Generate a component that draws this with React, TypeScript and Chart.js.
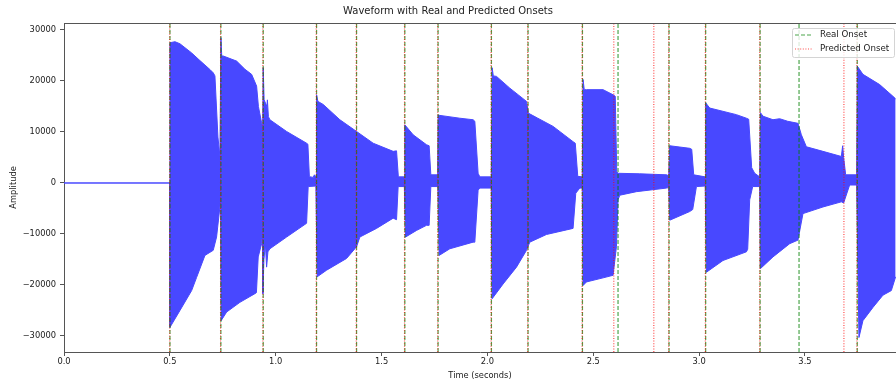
import React, { useEffect, useRef } from 'react';
import { Chart, registerables } from 'chart.js';

Chart.register(...registerables);

const TITLE = 'Waveform with Real and Predicted Onsets';
const X_LABEL = 'Time (seconds)';
const Y_LABEL = 'Amplitude';
const LEGEND_REAL = 'Real Onset';
const LEGEND_PRED = 'Predicted Onset';

const X_TICKS = [0, 0.5, 1, 1.5, 2, 2.5, 3, 3.5];
const Y_TICKS = [-30000, -20000, -10000, 0, 10000, 20000, 30000];
const X_MIN = 0;
const X_MAX = 3.93;
const Y_MIN = -33140;
const Y_MAX = 31370;

const REAL_ONSETS = [0.5005, 0.741, 0.941, 1.193, 1.382, 1.61, 1.767, 2.019, 2.192, 2.449, 2.617, 2.858, 3.031, 3.288, 3.472, 3.747];
const PRED_ONSETS = [0.4995, 0.7395, 0.9395, 1.1915, 1.3805, 1.6085, 1.7655, 2.0175, 2.1905, 2.4475, 2.597, 2.786, 2.8565, 3.0295, 3.2865, 3.684, 3.7455];

// Upper envelope of the waveform (time s, amplitude)
const UPPER_T = [
  0, 0.4995, 0.5005, 0.5241, 0.5477, 0.6029, 0.6421, 0.6893, 0.7049, 0.7129, 0.7271, 0.7365,
  0.7413, 0.745, 0.7521, 0.8154, 0.8546, 0.8862, 0.9098, 0.9183, 0.9334, 0.9386,
  0.941, 0.9452, 0.9584, 0.9608, 0.9655, 0.9726, 1.0515, 1.1459, 1.152, 1.1591, 1.177, 1.1827, 1.1912,
  1.1931, 1.1992, 1.2243, 1.3031, 1.382, 1.4603, 1.5548, 1.5708, 1.5793, 1.6076,
  1.61, 1.6492, 1.7125, 1.7247, 1.7328, 1.7649,
  1.7672, 1.8697, 1.9325, 1.9405, 1.9561, 1.9641, 2.0184,
  2.0222, 2.0279, 2.043, 2.1058, 2.1846, 2.1931, 2.238, 2.3102, 2.4046, 2.415, 2.4268, 2.4481,
  2.4518, 2.4575, 2.4679, 2.5463, 2.5935, 2.6039, 2.611, 2.6171, 2.7195, 2.847, 2.8565,
  2.8612, 2.9556, 2.9651, 2.9745, 3.0288,
  3.0312, 3.05, 3.1761, 3.2233, 3.2342, 3.2483, 3.2625, 3.2861,
  3.2894, 3.3017, 3.3489, 3.3805, 3.4183, 3.467, 3.483, 3.5066, 3.585, 3.6718, 3.678, 3.6827, 3.6922, 3.7441,
  3.7474, 3.7738, 3.8527, 3.9155, 3.9282,
];
const UPPER_V = [
  0, 0, 27500, 27700, 27300, 25500, 24000, 22250, 21600, 21000, 9000, 5200,
  28500, 24900, 24900, 23900, 22300, 21300, 19000, 15000, 11800, 11000,
  22600, 16300, 15000, 16300, 13000, 12400, 10100, 7800, 7600, 1240, 1100, 1600, 1200,
  17300, 16000, 15400, 12400, 10100, 7800, 6200, 6300, 1200, 1200,
  11400, 9450, 7500, 7300, 1600, 1600,
  13300, 12700, 12400, 12100, 1900, 1200, 1200,
  22600, 21000, 20900, 18600, 16000, 13700, 12700, 11100, 8100, 7800, 1300, 1200,
  20300, 18300, 18300, 18300, 17300, 17000, 2200, 1900, 1800, 1600, 1400,
  7300, 6800, 6600, 1600, 1200,
  15700, 14700, 13400, 12700, 12500, 3000, 1900, 1200,
  13800, 13100, 12400, 12600, 12100, 11700, 9450, 7100, 6200, 5200, 7300, 5000, 1600, 1600,
  22900, 21300, 19300, 17000, 16500,
];

// Lower envelope of the waveform (time s, amplitude)
const LOWER_T = [
  0, 0.4995, 0.5005, 0.5477, 0.6029, 0.6265, 0.6657, 0.7049, 0.7207, 0.7365, 0.7398,
  0.7422, 0.7682, 0.831, 0.9018, 0.9089, 0.9174, 0.9334, 0.9372,
  0.9396, 0.9443, 0.9514, 0.957, 0.9632, 0.9726, 1.0515, 1.1459, 1.1534, 1.1898,
  1.1959, 1.2403, 1.3347, 1.382, 1.3975, 1.4764, 1.5548, 1.5708, 1.5784, 1.6076,
  1.6133, 1.6653, 1.7125, 1.7247, 1.7328, 1.7658,
  1.772, 1.8225, 1.9325, 1.9405, 1.9561, 1.9641, 2.0184,
  2.0222, 2.0741, 2.1374, 2.1846, 2.2002, 2.279, 2.4046, 2.4174, 2.4363, 2.4481,
  2.4518, 2.4679, 2.5463, 2.5935, 2.6095, 2.6171, 2.6251, 2.704, 2.8456, 2.8565,
  2.8612, 2.9556, 2.9698, 2.9873, 3.0288,
  3.0345, 3.1128, 3.2233, 3.2295, 3.2389, 3.2531, 3.2861,
  3.2894, 3.3489, 3.4278, 3.467, 3.4906, 3.585, 3.6718, 3.6827, 3.711, 3.7441,
  3.755, 3.7738, 3.8211, 3.8683, 3.9079, 3.9282,
];
const LOWER_V = [
  0, 0, -28300, -25000, -21100, -18500, -14200, -13200, -10600, -4700, -3000,
  -27000, -25300, -23400, -21700, -21500, -14500, -11900, -10000,
  -21700, -15000, -12000, -16500, -13500, -12900, -10600, -7900, -700, -600,
  -18400, -17100, -14800, -12500, -10600, -8900, -6900, -7200, -700, -700,
  -10600, -9300, -8300, -8300, -700, -700,
  -14200, -12900, -11600, -11600, -1400, -1000, -1000,
  -22700, -19800, -16500, -13200, -11600, -10100, -8900, -2000, -1000, -1000,
  -20100, -19400, -18600, -18100, -12500, -3300, -2400, -1700, -1000, -900,
  -7300, -5600, -5200, -700, -600,
  -17500, -15200, -13500, -13000, -3300, -700, -700,
  -16800, -14500, -11900, -11200, -6000, -4700, -3700, -3900, -400, -400,
  -30300, -27000, -24400, -22000, -21100, -18400,
];

const WAVE_COLOR = '#4848ff';
const REAL_COLOR = 'rgba(0,128,0,0.7)';
const PRED_COLOR = 'rgba(255,0,0,0.7)';
const AXIS_COLOR = '#555';
const TEXT_COLOR = '#222';
const FONT = 'DejaVu Sans';
const SMALL = 8.3;

const REAL_DASH = [4, 2];
const PRED_DASH = [1, 1.6];

function verticalLines(times: number[]) {
  const pts: any[] = [];
  times.forEach((t) => {
    pts.push({ x: t, y: Y_MIN });
    pts.push({ x: t, y: Y_MAX });
    pts.push({ x: t, y: null });
  });
  return pts;
}

const frameAndLegend = {
  id: 'frameAndLegend',
  afterDraw(chart: any) {
    const { ctx, chartArea } = chart;
    ctx.save();
    // top spine
    ctx.strokeStyle = AXIS_COLOR;
    ctx.lineWidth = 1;
    ctx.beginPath();
    ctx.moveTo(chartArea.left, Math.round(chartArea.top) + 0.5);
    ctx.lineTo(chartArea.right, Math.round(chartArea.top) + 0.5);
    ctx.stroke();

    // legend
    ctx.font = `${SMALL + 0.4}px "${FONT}"`;
    const entries = [
      { label: LEGEND_REAL, color: REAL_COLOR, dash: REAL_DASH },
      { label: LEGEND_PRED, color: PRED_COLOR, dash: PRED_DASH },
    ];
    const textW = Math.max(...entries.map((e) => ctx.measureText(e.label).width));
    const padL = 3, lineLen = 18, gap = 7, padR = 3;
    const w = Math.max(padL + lineLen + gap + textW + padR, 102);
    const right = chartArea.right - 2;
    const left = right - w;
    const top = chartArea.top + 5;
    const h = 29;
    ctx.fillStyle = 'rgba(255,255,255,0.8)';
    ctx.strokeStyle = '#d4d4d4';
    ctx.lineWidth = 1;
    ctx.beginPath();
    (ctx as any).roundRect(Math.round(left) + 0.5, Math.round(top) + 0.5, Math.round(w), h, 2);
    ctx.fill();
    ctx.stroke();
    entries.forEach((e, i) => {
      const cy = top + 7 + i * 14;
      ctx.strokeStyle = e.color;
      ctx.lineWidth = 1.2;
      ctx.setLineDash(e.dash);
      ctx.beginPath();
      ctx.moveTo(left + padL, cy);
      ctx.lineTo(left + padL + lineLen, cy);
      ctx.stroke();
      ctx.setLineDash([]);
      ctx.fillStyle = TEXT_COLOR;
      ctx.textBaseline = 'middle';
      ctx.textAlign = 'left';
      ctx.fillText(e.label, left + padL + lineLen + gap, cy);
    });
    ctx.restore();
  },
};

function fmtY(v: number) {
  return v < 0 ? '\u2212' + Math.abs(v) : String(v);
}

export default function App() {
  const ref = useRef<HTMLCanvasElement>(null);
  useEffect(() => {
    if (!ref.current) return;
    Chart.defaults.font.family = FONT;
    Chart.defaults.color = TEXT_COLOR;
    const upper = UPPER_T.map((t, i) => ({ x: t, y: UPPER_V[i] }));
    const lower = LOWER_T.map((t, i) => ({ x: t, y: LOWER_V[i] }));
    const chart = new Chart(ref.current, {
      type: 'line',
      data: {
        datasets: [
          {
            label: LEGEND_PRED,
            data: verticalLines(PRED_ONSETS),
            borderColor: PRED_COLOR,
            borderWidth: 1.2,
            borderDash: PRED_DASH,
            pointRadius: 0,
            fill: false,
            spanGaps: false,
          },
          {
            label: LEGEND_REAL,
            data: verticalLines(REAL_ONSETS),
            borderColor: REAL_COLOR,
            borderWidth: 1.2,
            borderDash: REAL_DASH,
            pointRadius: 0,
            fill: false,
            spanGaps: false,
          },
          {
            label: 'Waveform upper',
            data: upper,
            borderColor: WAVE_COLOR,
            backgroundColor: WAVE_COLOR,
            borderWidth: 1,
            pointRadius: 0,
            fill: 'origin',
            tension: 0,
          },
          {
            label: 'Waveform lower',
            data: lower,
            borderColor: WAVE_COLOR,
            backgroundColor: WAVE_COLOR,
            borderWidth: 1,
            pointRadius: 0,
            fill: 'origin',
            tension: 0,
          },
        ],
      },
      options: {
        animation: false,
        responsive: true,
        maintainAspectRatio: false,
        layout: { padding: 0 },
        events: [],
        plugins: {
          legend: { display: false },
          tooltip: { enabled: false },
          title: {
            display: true,
            text: TITLE,
            color: TEXT_COLOR,
            font: { size: 10, weight: 'normal', family: FONT },
            padding: { top: 5, bottom: 6 },
          },
        },
        scales: {
          x: {
            type: 'linear',
            min: X_MIN,
            max: X_MAX,
            afterBuildTicks: (s: any) => {
              s.ticks = X_TICKS.map((v) => ({ value: v }));
            },
            afterFit: (s: any) => {
              s.height = 30;
            },
            ticks: {
              color: TEXT_COLOR,
              font: { size: SMALL },
              padding: 1,
              maxRotation: 0,
              autoSkip: false,
              callback: (v: any) => Number(v).toFixed(1),
            },
            grid: {
              drawOnChartArea: false,
              drawTicks: true,
              tickLength: 4,
              color: AXIS_COLOR,
            },
            border: { display: true, color: AXIS_COLOR, width: 1 },
            title: {
              display: true,
              text: X_LABEL,
              color: TEXT_COLOR,
              font: { size: SMALL },
              padding: { top: 0, bottom: 1 },
            },
          },
          y: {
            type: 'linear',
            min: Y_MIN,
            max: Y_MAX,
            afterBuildTicks: (s: any) => {
              s.ticks = Y_TICKS.map((v) => ({ value: v }));
            },
            afterFit: (s: any) => {
              s.width = 64;
            },
            ticks: {
              color: TEXT_COLOR,
              font: { size: SMALL },
              padding: 4,
              autoSkip: false,
              callback: (v: any) => fmtY(Number(v)),
            },
            grid: {
              drawOnChartArea: false,
              drawTicks: true,
              tickLength: 4,
              color: AXIS_COLOR,
            },
            border: { display: true, color: AXIS_COLOR, width: 1 },
            title: {
              display: true,
              text: Y_LABEL,
              color: TEXT_COLOR,
              font: { size: SMALL },
              padding: { top: 9, bottom: 0 },
            },
          },
        },
      },
      plugins: [frameAndLegend],
    } as any);
    return () => chart.destroy();
  }, []);

  return (
    <div style={{ position: 'fixed', left: 0, top: 0, width: 896, height: 382, background: '#fff' }}>
      <canvas ref={ref} />
    </div>
  );
}
